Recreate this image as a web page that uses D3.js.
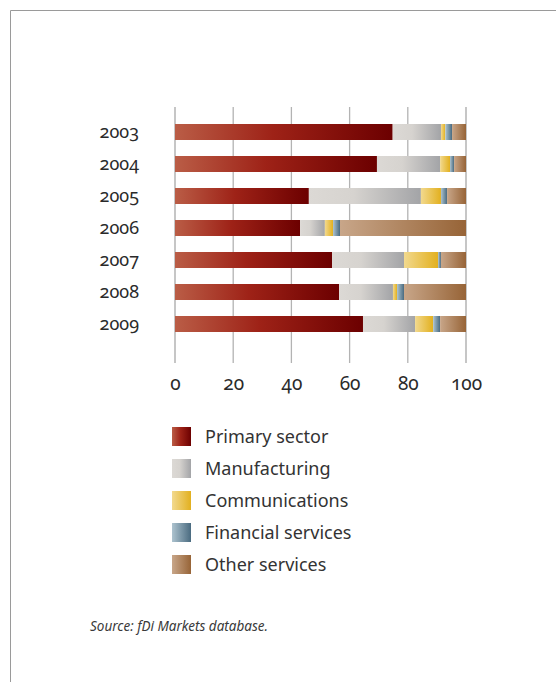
<!DOCTYPE html>
<html>
<head>
<meta charset="utf-8">
<script src="https://cdn.jsdelivr.net/npm/d3@7"></script>
<style>
  html, body { margin: 0; padding: 0; background: #fff; }
  svg { display: block; }
  .yr, .tick-lbl { font-family: "Noto Sans", sans-serif; font-feature-settings: "onum" 1; font-variant-numeric: oldstyle-nums; }
</style>
</head>
<body>
<svg id="chart" width="556" height="682"></svg>
<script>
// Share of FDI projects by sector, 2003-2009 (%)
const years = ["2003", "2004", "2005", "2006", "2007", "2008", "2009"];
const sectors = ["Primary sector", "Manufacturing", "Communications", "Financial services", "Other services"];
const primary       = [74.8, 69.4, 46.0, 43.0, 54.0, 56.4, 64.6];
const manufacturing = [16.6, 21.7, 38.5, 8.5, 24.7, 18.5, 17.9];
const communications= [1.5, 3.4, 6.9, 2.8, 11.7, 1.4, 6.2];
const financial     = [2.3, 1.4, 2.1, 2.4, 1.0, 2.4, 2.4];
const other         = [4.8, 4.1, 6.5, 43.3, 8.6, 21.3, 8.9];
const tickValues = [0, 20, 40, 60, 80, 100];
const source = "Source: fDi Markets database.";

// gradient stops (light to dark) per sector
const gradients = [
  [["0%", "#ba5d46"], ["45%", "#9e2217"], ["100%", "#6c0000"]],
  [["0%", "#dcd9d5"], ["40%", "#d6d3cf"], ["100%", "#a3a4a7"]],
  [["0%", "#f2d98e"], ["100%", "#e2b01f"]],
  [["0%", "#adc3cf"], ["100%", "#4a6b80"]],
  [["0%", "#c8a689"], ["100%", "#976437"]]
];

const series = [primary, manufacturing, communications, financial, other];
const table = years.map((y, i) => {
  const row = { year: y };
  sectors.forEach((s, k) => row[s] = series[k][i]);
  return row;
});
const stacked = d3.stack().keys(sectors)(table);

const svg = d3.select("#chart");

// frame
svg.append("path")
  .attr("d", "M10.5,682 V10.5 H556")
  .attr("fill", "none").attr("stroke", "#9a9a9a").attr("stroke-width", 1);

const defs = svg.append("defs");
gradients.forEach((stops, k) => {
  const g = defs.append("linearGradient").attr("id", "g" + k)
    .attr("x1", "0").attr("x2", "1").attr("y1", "0").attr("y2", "0");
  stops.forEach(([o, c]) => g.append("stop").attr("offset", o).attr("stop-color", c));
});

const x = d3.scaleLinear().domain([0, 100]).range([175, 466]);
const y = d3.scaleBand().domain(years).range([108, 348]).paddingInner(0.5).paddingOuter(0.5);

// gridlines
svg.append("g").selectAll("line").data(tickValues).join("line")
  .attr("x1", d => x(d)).attr("x2", d => x(d))
  .attr("y1", 107).attr("y2", 363)
  .attr("stroke", d => d === 0 || d === 100 ? "#c6c6c6" : "#b3b3b3")
  .attr("stroke-width", d => d === 0 || d === 100 ? 2 : 1.3);

// bars
svg.append("g").selectAll("g").data(stacked).join("g")
  .attr("fill", (d, k) => `url(#g${k})`)
  .selectAll("rect").data(d => d).join("rect")
  .attr("x", d => x(d[0]))
  .attr("width", d => x(d[1]) - x(d[0]))
  .attr("y", d => y(d.data.year))
  .attr("height", y.bandwidth());

// year labels
svg.append("g").selectAll("text").data(years).join("text")
  .attr("class", "yr")
  .attr("x", 139).attr("y", d => y(d) + y.bandwidth() / 2)
  .attr("dy", "0.35em").attr("text-anchor", "end")
  .attr("font-size", 18).attr("fill", "#2a2a2a")
  .text(d => d);

// x axis labels
const axis = d3.axisBottom(x).tickValues(tickValues).tickSize(0).tickPadding(0).tickFormat(d3.format("d"));
const ax = svg.append("g").attr("transform", "translate(0,383)").call(axis);
ax.select(".domain").remove();
ax.selectAll("text").attr("class", "tick-lbl").attr("dy", "0.35em")
  .attr("y", 0).attr("font-size", 19).attr("fill", "#2a2a2a");

// legend
const lg = svg.append("g").selectAll("g").data(sectors).join("g")
  .attr("transform", (d, k) => `translate(172,${427 + k * 32})`);
lg.append("rect").attr("width", 19).attr("height", 19)
  .attr("fill", (d, k) => `url(#g${k})`);
lg.append("text").attr("x", 33).attr("y", 9.5).attr("dy", "0.36em")
  .attr("font-family", "'Noto Sans', sans-serif").attr("font-size", 18)
  .attr("fill", "#333").text(d => d);

// source note
svg.append("text").attr("x", 90).attr("y", 631)
  .attr("font-family", "'Noto Sans', sans-serif").attr("font-style", "italic")
  .attr("font-size", 13.5).attr("fill", "#3a3a3a").text(source);
</script>
</body>
</html>
